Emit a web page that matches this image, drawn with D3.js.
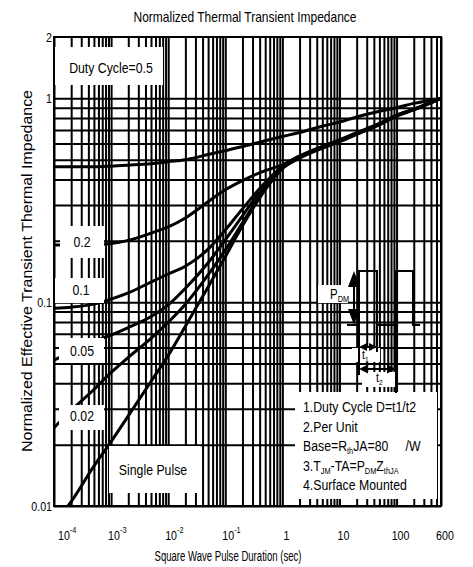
<!DOCTYPE html>
<html>
<head>
<meta charset="utf-8">
<script src="https://cdn.jsdelivr.net/npm/d3@7"></script>
<style>
body { margin: 0; background: #fff; }
text { font-family: "Liberation Sans", Arial, sans-serif; fill: #000; white-space: pre; }
</style>
</head>
<body>
<svg id="chart" width="473" height="567"></svg>
<script>
// pulse durations (sec) read at these points
var times = [1e-4, 2e-4, 5e-4, 1e-3, 2e-3, 5e-3, 1e-2, 2e-2, 5e-2, 0.1, 0.2, 0.5, 1, 2, 5, 10, 20, 50, 100, 200, 600];

var duty05 = [0.462, 0.462, 0.462, 0.465, 0.47, 0.478, 0.489, 0.50, 0.53, 0.554, 0.58, 0.62, 0.65, 0.68, 0.73, 0.765, 0.81, 0.865, 0.90, 0.945, 1.0];
var duty02 = [0.191, 0.191, 0.192, 0.194, 0.201, 0.218, 0.234, 0.259, 0.311, 0.356, 0.395, 0.442, 0.472, 0.522, 0.582, 0.626, 0.678, 0.753, 0.828, 0.886, 1.0];
var duty01 = [0.0934, 0.0945, 0.0978, 0.1035, 0.111, 0.1255, 0.1375, 0.150, 0.182, 0.226, 0.287, 0.386, 0.463, 0.519, 0.579, 0.623, 0.675, 0.751, 0.826, 0.884, 1.0];
var duty005 = [0.052, 0.057, 0.064, 0.069, 0.075, 0.085, 0.097, 0.117, 0.156, 0.202, 0.265, 0.377, 0.46, 0.516, 0.576, 0.620, 0.672, 0.748, 0.824, 0.882, 1.0];
var duty002 = [0.0242, 0.0294, 0.0373, 0.0452, 0.0536, 0.0665, 0.0797, 0.0977, 0.136, 0.180, 0.245, 0.364, 0.456, 0.513, 0.573, 0.617, 0.669, 0.745, 0.821, 0.880, 1.0];

var singleTimes = [1.76e-4, 2e-4, 5e-4, 1e-3, 2e-3, 5e-3, 1e-2, 2e-2, 5e-2, 0.1, 0.2, 0.5, 1, 2, 5, 10, 20, 50, 100, 200, 600];
var singlePulse = [0.01, 0.0105, 0.0157, 0.0207, 0.0277, 0.0408, 0.0548, 0.0762, 0.1186, 0.167, 0.237, 0.356, 0.452, 0.509, 0.569, 0.613, 0.665, 0.741, 0.818, 0.877, 1.0];

var xTickVals = [1e-4, 1e-3, 1e-2, 1e-1, 1, 10, 100, 600];
var xTickBase = ["10", "10", "10", "10", "1", "10", "100", "600"];
var xTickSup = ["-4", "-3", "-2", "-1", "", "", "", ""];

var yTickVals = [0.01, 0.1, 1, 2];
var yTickLabels = ["0.01", "0.1", "1", "2"];

var curveLabels = ["Duty Cycle=0.5", "0.2", "0.1", "0.05", "0.02", "Single Pulse"];

var notes = ["1.Duty Cycle D=t1/t2", "2.Per Unit"];

var svg = d3.select('#chart');
var pLeft = 54, pRight = 441, pTop = 37, pBottom = 506;
var squeeze = 0.82;   // no narrow font installed, so squash text horizontally

var x = d3.scaleLog().domain([1e-4, 600]).range([pLeft, pRight]);
var y = d3.scaleLog().domain([0.01, 2]).range([pBottom, pTop]);

function narrow(px, py, size, anchor) {
	return svg.append('g')
		.attr('transform', 'translate(' + px + ',' + py + ') scale(' + squeeze + ',1)')
		.append('text')
		.attr('font-size', size)
		.attr('text-anchor', anchor || 'start');
}

// GRID
svg.append('g')
	.attr('transform', 'translate(0,' + pBottom + ')')
	.call(d3.axisBottom(x).tickValues(x.ticks()).tickSize(-(pBottom - pTop)).tickFormat(''))
	.call(function (g) { g.select('.domain').remove(); })
	.selectAll('line').attr('stroke', '#000').attr('stroke-width', 2);

svg.append('g')
	.attr('transform', 'translate(' + pLeft + ',0)')
	.call(d3.axisLeft(y).tickValues(y.ticks().filter(function (v) { return v <= 1; })).tickSize(-(pRight - pLeft)).tickFormat(''))
	.call(function (g) { g.select('.domain').remove(); })
	.selectAll('line').attr('stroke', '#000').attr('stroke-width', 2);

// CURVES
svg.append('clipPath').attr('id', 'plotclip')
	.append('rect').attr('x', pLeft).attr('y', pTop).attr('width', pRight - pLeft).attr('height', pBottom - pTop);

var line = d3.line()
	.x(function (d) { return x(d[0]); })
	.y(function (d) { return y(d[1]); })
	.curve(d3.curveMonotoneX);

var series = [duty05, duty02, duty01, duty005, duty002].map(function (vals) {
	return times.map(function (t, i) { return [t, vals[i]]; });
});
series.push(singleTimes.map(function (t, i) { return [t, singlePulse[i]]; }));

svg.append('g').attr('clip-path', 'url(#plotclip)')
	.selectAll('path').data(series).enter().append('path')
	.attr('d', line)
	.attr('fill', 'none')
	.attr('stroke', '#000')
	.attr('stroke-width', 3);

// WHITE LABEL BOXES
var boxes = [
	[55, 47, 163, 85], [60, 226, 104, 258], [55, 278, 104, 303],
	[59, 338, 104, 363], [59, 405, 104, 430], [109, 446, 200, 493],
	[295, 392, 437, 499], [318, 285, 348, 303], [352, 348, 380, 362], [362, 372, 395, 387]
];
svg.append('g').selectAll('rect').data(boxes).enter().append('rect')
	.attr('x', function (d) { return d[0]; })
	.attr('y', function (d) { return d[1]; })
	.attr('width', function (d) { return d[2] - d[0]; })
	.attr('height', function (d) { return d[3] - d[1]; })
	.attr('fill', '#fff');

// CURVE LABELS
var labelPos = [[111, 73], [82, 247], [81, 295], [82, 356], [82, 421], [153, 475]];
curveLabels.forEach(function (d, i) {
	narrow(labelPos[i][0], labelPos[i][1], '15px', 'middle').text(d);
});

// NOTES
var nx = 303;
notes.forEach(function (d, i) {
	narrow(nx, 412 + i * 19.5, '15px').text(d);
});

var n3 = narrow(nx, 451, '15px');
n3.append('tspan').text('Base=R');
n3.append('tspan').attr('font-size', '9px').attr('dy', 3).text('th');
n3.append('tspan').attr('dy', -3).text('JA=80     /W');

var n4 = narrow(nx, 471, '15px');
n4.append('tspan').text('3.T');
n4.append('tspan').attr('font-size', '9px').attr('dy', 3).text('JM');
n4.append('tspan').attr('dy', -3).text('-TA=P');
n4.append('tspan').attr('font-size', '9px').attr('dy', 3).text('DM');
n4.append('tspan').attr('dy', -3).text('Z');
n4.append('tspan').attr('font-size', '9px').attr('dy', 3).text('thJA');

narrow(nx, 490, '15px').text('4.Surface Mounted');

// PULSE DIAGRAM
var pd = svg.append('g').attr('stroke', '#000').attr('stroke-width', 2).attr('fill', 'none');
var base = 325, topP = 271;
pd.append('path').attr('d',
	'M347,' + base + 'H359V' + topP + 'H377V' + base + 'H396V' + topP + 'H413V' + base + 'H420');
pd.append('path').attr('d', 'M359,' + base + 'V375 M377,' + base + 'V352 M396,' + base + 'V393');
// P_DM arrow
pd.append('path').attr('d', 'M354,' + (topP + 10) + 'V' + (base - 10));
svg.append('path').attr('fill', '#000')
	.attr('d', 'M354,' + topP + 'l-6,16h12z M354,' + base + 'l-6,-16h12z');
// t1 / t2 arrows
pd.append('path').attr('d', 'M362,347H374 M362,369H393');
svg.append('path').attr('fill', '#000')
	.attr('d', 'M359,347l8,-4v8z M377,347l-8,-4v8z M359,369l9,-4.5v9z M396,369l-9,-4.5v9z');

var pdm = narrow(330, 299, '14px');
pdm.append('tspan').text('P');
pdm.append('tspan').attr('font-size', '9px').attr('dy', 3).text('DM');

var t1 = narrow(362, 359, '13px');
t1.append('tspan').text('t');
t1.append('tspan').attr('font-size', '8px').attr('dy', 3).text('1');
var t2 = narrow(376, 382, '13px');
t2.append('tspan').text('t');
t2.append('tspan').attr('font-size', '8px').attr('dy', 3).text('2');

// BORDER
svg.append('rect')
	.attr('x', pLeft).attr('y', pTop).attr('width', pRight - pLeft).attr('height', pBottom - pTop)
	.attr('fill', 'none').attr('stroke', '#000').attr('stroke-width', 2);

// AXIS TICK LABELS
xTickVals.forEach(function (d, i) {
	var sup = xTickSup[i];
	var t = narrow(sup ? Math.max(x(d) - 3, 58) : x(d) + 4, 540, '13px', sup ? 'start' : 'middle');
	t.append('tspan').text(xTickBase[i]);
	if (sup) t.append('tspan').attr('font-size', '9px').attr('dy', -7).text(sup);
});

yTickVals.forEach(function (d, i) {
	narrow(52, y(d), '13px', 'end').attr('dy', '0.36em').text(yTickLabels[i]);
});

// TITLES
svg.append('text').attr('x', 245).attr('y', 22).attr('text-anchor', 'middle')
	.attr('font-size', '14.5px')
	.attr('textLength', 223).attr('lengthAdjust', 'spacingAndGlyphs')
	.text('Normalized Thermal Transient Impedance');

svg.append('text').attr('x', 228).attr('y', 561).attr('text-anchor', 'middle')
	.attr('font-size', '14px')
	.attr('textLength', 147).attr('lengthAdjust', 'spacingAndGlyphs')
	.text('Square Wave Pulse Duration (sec)');

svg.append('text')
	.attr('transform', 'translate(32,271) rotate(-90)')
	.attr('text-anchor', 'middle')
	.attr('font-size', '14px')
	.attr('textLength', 362).attr('lengthAdjust', 'spacingAndGlyphs')
	.text('Normalized Effective Transient Thermal Impedance');
</script>
</body>
</html>
